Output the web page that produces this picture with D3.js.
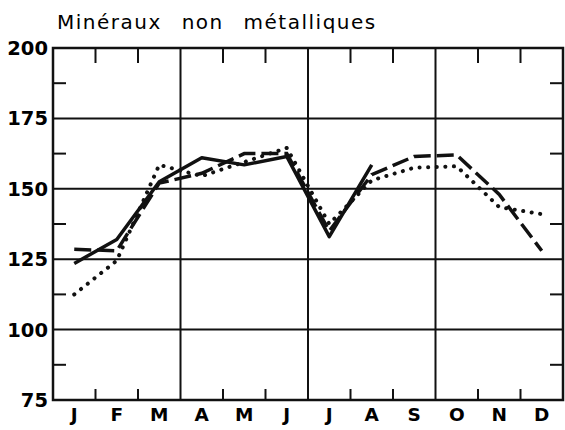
<!DOCTYPE html>
<html>
<head>
<meta charset="utf-8">
<script src="https://cdn.jsdelivr.net/npm/d3@7"></script>
<style>
  body { margin: 0; background: #fff; }
  svg { display: block; }
</style>
</head>
<body>
<div id="chart"></div>
<script>
// données
let months = ["J", "F", "M", "A", "M", "J", "J", "A", "S", "O", "N", "D"];
let yTicks = [75, 100, 125, 150, 175, 200];
let solid = [123.5, 132, 152.5, 161, 158.5, 161.5, 133, 158.5, null, null, null, null];
let dashed = [128.5, 128, 152, 155.5, 162.5, 162.5, 135, 155, 161.5, 162, 148, 128];
let dotted = [112.5, 124.5, 158.5, 154.5, 159.5, 164.5, 137.5, 153, 157.5, 158, 143.5, 141];

let width = 565;
let height = 430;
let mLeft = 53, mRight = 563, mTop = 48, mBottom = 400;

let svg = d3.select("#chart").append("svg")
    .attr("width", width)
    .attr("height", height);

let x = d3.scaleBand()
    .domain(d3.range(months.length))
    .range([mLeft, mRight])
    .padding(0);

let y = d3.scaleLinear()
    .domain([75, 200])
    .range([mBottom, mTop]);

let cx = (i) => x(i) + x.bandwidth() / 2;

// titre
svg.append("text")
    .attr("x", 57)
    .attr("y", 29)
    .attr("font-family", "DejaVu Sans")
    .attr("font-size", 20)
    .attr("letter-spacing", 1.5)
    .attr("word-spacing", 12)
    .text("Minéraux non métalliques");

let grid = svg.append("g")
    .attr("stroke", "#111")
    .attr("fill", "none");

// lignes horizontales
grid.selectAll(".hline")
    .data(yTicks.slice(1, -1))
    .join("line")
    .attr("x1", mLeft).attr("x2", mRight)
    .attr("y1", (d) => y(d)).attr("y2", (d) => y(d))
    .attr("stroke-width", 2);

// lignes verticales (trimestres)
grid.selectAll(".vline")
    .data([3, 6, 9])
    .join("line")
    .attr("x1", (d) => x(d)).attr("x2", (d) => x(d))
    .attr("y1", mTop).attr("y2", mBottom)
    .attr("stroke-width", 2);

// petits traits des mois
let monthBounds = d3.range(1, 12).filter((d) => d % 3 !== 0);
grid.selectAll(".ttop")
    .data(monthBounds)
    .join("line")
    .attr("x1", (d) => x(d)).attr("x2", (d) => x(d))
    .attr("y1", mTop).attr("y2", mTop + 15)
    .attr("stroke-width", 2);
grid.selectAll(".tbot")
    .data(monthBounds)
    .join("line")
    .attr("x1", (d) => x(d)).attr("x2", (d) => x(d))
    .attr("y1", mBottom).attr("y2", mBottom - 11)
    .attr("stroke-width", 2);

// petits traits intermédiaires en y
let halfTicks = [87.5, 112.5, 137.5, 162.5, 187.5];
grid.selectAll(".tl")
    .data(halfTicks)
    .join("line")
    .attr("x1", mLeft).attr("x2", mLeft + 13)
    .attr("y1", (d) => y(d)).attr("y2", (d) => y(d))
    .attr("stroke-width", 2);
grid.selectAll(".tr")
    .data(halfTicks)
    .join("line")
    .attr("x1", mRight).attr("x2", mRight - 13)
    .attr("y1", (d) => y(d)).attr("y2", (d) => y(d))
    .attr("stroke-width", 2);

// cadre
svg.append("rect")
    .attr("x", mLeft).attr("y", mTop)
    .attr("width", mRight - mLeft).attr("height", mBottom - mTop)
    .attr("fill", "none")
    .attr("stroke", "#111")
    .attr("stroke-width", 2.5);

// étiquettes y
svg.selectAll(".ylab")
    .data(yTicks)
    .join("text")
    .attr("x", 48)
    .attr("y", (d) => y(d))
    .attr("dy", "0.36em")
    .attr("text-anchor", "end")
    .attr("font-family", "DejaVu Sans")
    .attr("font-weight", "bold")
    .attr("font-size", 19.5)
    .text((d) => d);

// étiquettes mois
svg.selectAll(".xlab")
    .data(months)
    .join("text")
    .attr("x", (d, i) => cx(i))
    .attr("y", 421)
    .attr("text-anchor", "middle")
    .attr("font-family", "DejaVu Sans")
    .attr("font-weight", "bold")
    .attr("font-size", 18.5)
    .text((d) => d);

// courbes
let line = d3.line()
    .defined((d) => d != null)
    .x((d, i) => cx(i))
    .y((d) => y(d));

svg.append("path")
    .datum(dotted)
    .attr("d", line)
    .attr("fill", "none")
    .attr("stroke", "#111")
    .attr("stroke-width", 4)
    .attr("stroke-linecap", "round")
    .attr("stroke-dasharray", "0.1 8.5");

svg.append("path")
    .datum(dashed)
    .attr("d", line)
    .attr("fill", "none")
    .attr("stroke", "#111")
    .attr("stroke-width", 3.5)
    .attr("stroke-dasharray", "17 6");

svg.append("path")
    .datum(solid)
    .attr("d", line)
    .attr("fill", "none")
    .attr("stroke", "#111")
    .attr("stroke-width", 3.5)
    .attr("stroke-linejoin", "round");
</script>
</body>
</html>
